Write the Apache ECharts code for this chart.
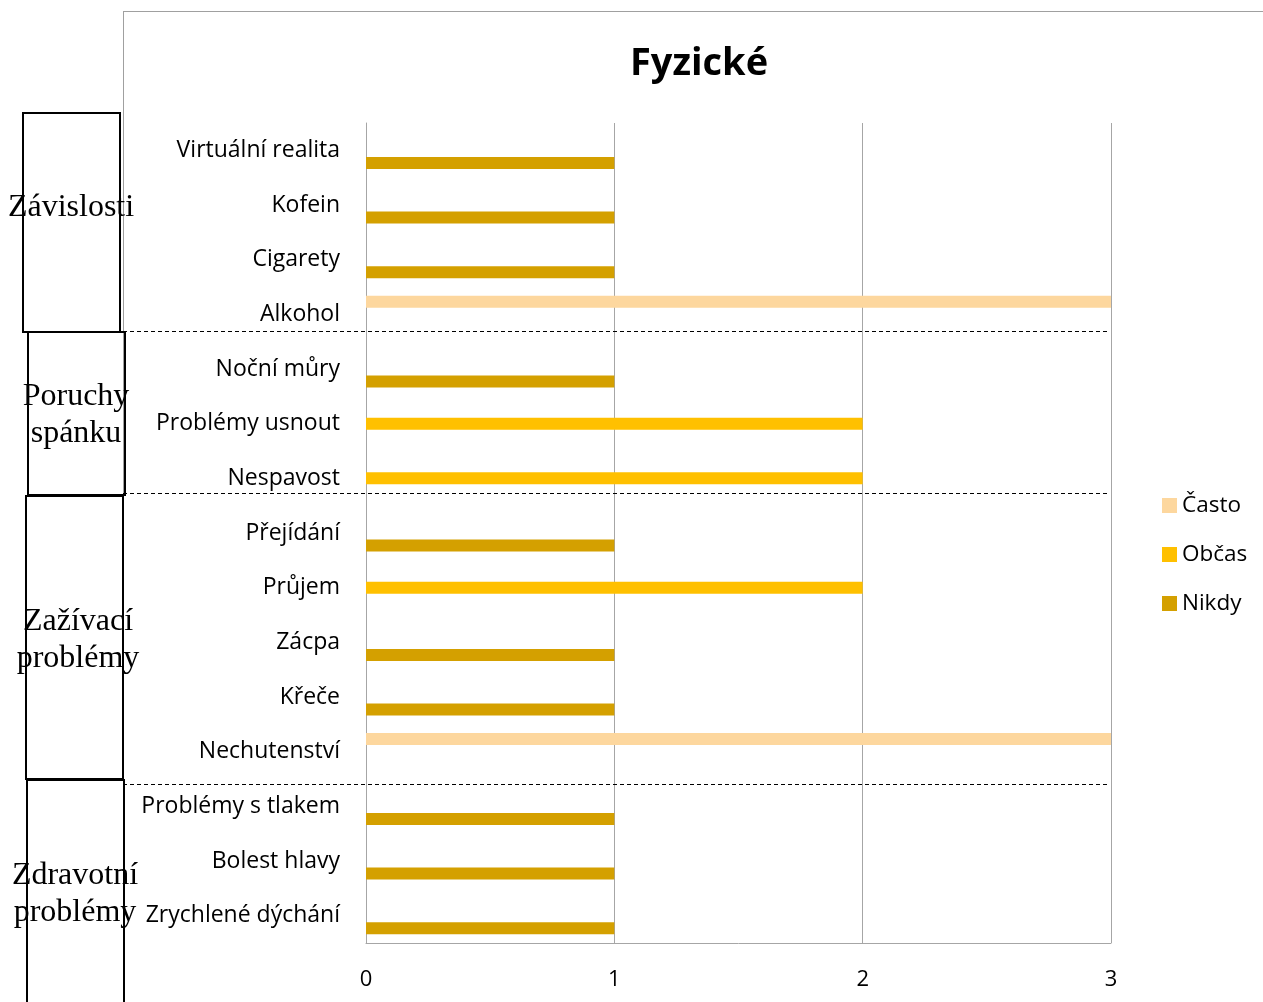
<!DOCTYPE html>
<html>
<head>
<meta charset="utf-8">
<title>Fyzické</title>
<script src="https://cdn.jsdelivr.net/npm/echarts@6/dist/echarts.min.js"></script>
<style>
  html, body { margin: 0; padding: 0; background: #fff; }
  #chart { width: 1263px; height: 1002px; }
</style>
</head>
<body>
<div id="chart"></div>
<script>
// Symptoms, top to bottom
const categories = [
  'Virtuální realita', 'Kofein', 'Cigarety', 'Alkohol',
  'Noční můry', 'Problémy usnout', 'Nespavost',
  'Přejídání', 'Průjem', 'Zácpa', 'Křeče', 'Nechutenství',
  'Problémy s tlakem', 'Bolest hlavy', 'Zrychlené dýchání'
];

// Answer counts per frequency
const casto = [0, 0, 0, 3, 0, 0, 0, 0, 0, 0, 0, 3, 0, 0, 0];
const obcas = [0, 0, 0, 0, 0, 2, 2, 0, 2, 0, 0, 0, 0, 0, 0];
const nikdy = [1, 1, 1, 0, 1, 0, 0, 1, 0, 1, 1, 0, 1, 1, 1];

const seriesNames = ['Často', 'Občas', 'Nikdy'];
const xTicks = { min: 0, max: 3, interval: 1 };

// Group captions drawn in the boxes on the left
const groups = [
  { text: 'Závislosti', box: [23, 113, 97, 219], cx: 71, cy: 208 },
  { text: 'Poruchy\nspánku', box: [28, 332, 97, 163], cx: 76, cy: 415 },
  { text: 'Zažívací\nproblémy', box: [26, 496, 97, 283], cx: 78, cy: 640 },
  { text: 'Zdravotní\nproblémy', box: [27, 780, 97, 240], cx: 75, cy: 894 }
];
const separatorsY = [331, 493, 784];

const font = '"Open Sans", "Noto Sans", sans-serif';
const colors = ['#FDD79E', '#FFC000', '#D4A000'];

const chart = echarts.init(document.getElementById('chart'), null, { renderer: 'canvas' });

const graphics = [
  // outer chart frame (top and left edges)
  { type: 'line', shape: { x1: 123, y1: 11.5, x2: 1263, y2: 11.5 }, style: { stroke: '#a0a0a0', lineWidth: 1 }, z: 1 },
  { type: 'line', shape: { x1: 123.5, y1: 11, x2: 123.5, y2: 1002 }, style: { stroke: '#a0a0a0', lineWidth: 1 }, z: 1 }
];
separatorsY.forEach(y => {
  graphics.push({
    type: 'line', shape: { x1: 123, y1: y + 0.5, x2: 1110, y2: y + 0.5 },
    style: { stroke: '#000', lineWidth: 1, lineDash: [4, 3] }, z: 5
  });
});
groups.forEach(g => {
  graphics.push({
    type: 'rect', shape: { x: g.box[0], y: g.box[1], width: g.box[2], height: g.box[3] },
    style: { fill: 'rgba(255,255,255,0)', stroke: '#000', lineWidth: 2 }, z: 6
  });
  graphics.push({
    type: 'text', x: g.cx, y: g.cy, z: 7,
    style: {
      text: g.text, fill: '#000', align: 'center', verticalAlign: 'middle',
      font: '32px "Liberation Serif", "DejaVu Serif", serif', lineHeight: 37
    }
  });
});

const series = [casto, obcas, nikdy].map((data, i) => ({
  name: seriesNames[i],
  type: 'bar',
  data: data,
  barWidth: 12,
  barGap: '5%',
  itemStyle: { color: colors[i] },
  emphasis: { disabled: true },
  animation: false
}));

chart.setOption({
  animation: false,
  title: {
    text: 'Fyzické', left: 694, top: 40, textAlign: 'center',
    textStyle: { fontFamily: font, fontWeight: 'bold', fontSize: 38, color: '#000' }
  },
  legend: {
    orient: 'vertical', left: 1157, top: 489, itemGap: 26,
    itemWidth: 15, itemHeight: 15, icon: 'rect',
    data: seriesNames,
    textStyle: { fontFamily: font, fontSize: 22.5, color: '#000', padding: [0, 0, 0, 0] }
  },
  grid: { left: 366, right: 152, top: 123, bottom: 59, containLabel: false },
  xAxis: {
    type: 'value', min: xTicks.min, max: xTicks.max, interval: xTicks.interval,
    axisLine: { show: true, lineStyle: { color: '#a6a6a6', width: 1 } },
    axisTick: { show: false },
    axisLabel: { fontFamily: font, fontSize: 22, color: '#000', margin: 26 },
    splitLine: { show: true, lineStyle: { color: '#a6a6a6', width: 1 } }
  },
  yAxis: {
    type: 'category', data: categories, inverse: true,
    axisLine: { show: true, lineStyle: { color: '#a6a6a6', width: 1 } },
    axisTick: { show: false },
    axisLabel: { fontFamily: font, fontSize: 23, color: '#000', margin: 26, padding: [6, 0, 0, 0] }
  },
  series: series,
  graphic: graphics
});
</script>
</body>
</html>
